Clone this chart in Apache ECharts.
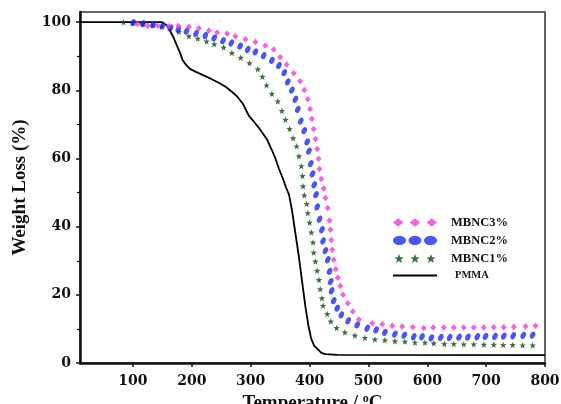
<!DOCTYPE html>
<html><head><meta charset="utf-8">
<script src="https://cdn.jsdelivr.net/npm/echarts@6/dist/echarts.min.js"></script>
<style>html,body{margin:0;padding:0;background:#fff}#c{width:561px;height:404px}</style>
</head><body><div id="c"></div>
<script>
// ---- data ----
const xTickValues = [100, 200, 300, 400, 500, 600, 700, 800];
const yTickValues = [0, 20, 40, 60, 80, 100];
const yMinorTickValues = [10, 30, 50, 70, 90];
const seriesNames = ['MBNC3%', 'MBNC2%', 'MBNC1%', 'PMMA'];

const mbnc3Temp = [108,125,142,160,177,195,212,229,243,260,274,291,308,325,339,350,361,373,384,391,397,401,404,407,410,413,415.5,417,420,424,427,431,434,435.5,437,438.5,441,444.5,448,452,457,465,473.5,483.7,506.5,523.5,540.5,557.5,575.5,594,610,628,645,662,679,696,713,730,747,767,784];
const mbnc3Weight = [99.5,99.0,99.0,98.8,98.9,98.6,98.2,97.6,97.0,96.6,95.9,95.0,94.2,93.2,92.0,89.7,87.6,85.0,82.7,80.1,77.4,74.5,71.6,68.7,65.7,62.8,59.9,56.9,54.0,51.2,48.4,45.5,41.8,39.1,36.1,33.2,30.3,27.5,25.0,22.6,20.0,17.5,15.1,12.8,11.7,11.4,10.9,10.7,10.5,10.3,10.4,10.4,10.4,10.4,10.4,10.4,10.5,10.5,10.6,10.7,10.9];

const mbnc2Temp = [100,117,134,150,164,177,191,207,223,238,253,267,282,295,308,322,336,348,357,363,370,376,380,385,391,396,399,402,405,408,411,413,417,421,423,427,431,434,436,437.5,441,447,454,465.6,481,498,513,528,545,561,577,591,607,623,638,654,669,685,699,715,730,746,763,779];
const mbnc2Weight = [99.9,99.6,99.3,98.9,98.3,97.9,97.4,96.7,96.1,95.4,94.6,93.9,93.0,92.0,91.3,90.2,88.8,87.3,85.2,82.5,80.1,77.4,74.4,71.0,68.2,64.9,62.2,58.5,55.5,52.3,49.4,45.8,42.2,39.1,35.8,33.0,30.3,26.9,23.9,21.2,18.3,16.1,14.1,12.4,11.2,10.2,9.7,9.0,8.5,8.2,7.7,7.7,7.4,7.5,7.5,7.6,7.6,7.7,7.8,7.8,7.9,8.0,8.1,8.2];

const mbnc1Temp = [84,101,117,134,149,162,178,195,210,225,238,254,268,283,298,312,320,327,336,346,353,359,366,372,378,382,386,388,389,391,395,397,400,403,406,407,410,413,416,418,421,423,430,436,446,460,477,494,511,528,545,562,579,596,611,629,645,662,679,696,713,729,745,762,779];
const mbnc1Weight = [100,99.8,99.5,99.1,98.8,98.3,97.2,95.9,95.2,94.4,93.6,92.6,91.0,89.6,88.0,86.2,84.0,81.5,79.0,76.8,74.0,71.4,68.7,66.0,63.6,60.7,57.8,54.9,51.9,49.2,46.7,44.0,41.2,38.3,35.4,32.4,29.8,27.1,24.4,21.7,19.0,16.8,14.4,12.2,10.3,9.0,8.1,7.4,6.9,6.7,6.4,6.3,6.0,6.0,5.8,5.6,5.6,5.5,5.5,5.4,5.4,5.3,5.3,5.2,5.2];

const pmmaTemp = [10,150,158,163,169,175,180,184,190,197,206,220,235,248,258,270,278,287,297,307,316,328,336,342,348,355,360,365,370,376,382,388,393,398,403,408,413,420,427,447,800];
const pmmaWeight = [100,100,99,97.5,95.5,93,91,89,87.5,86.3,85.5,84.4,83.2,82,81,79.3,78,76,72.5,70.5,68.5,65.5,62.5,60,57,54,51.5,49.5,45,38,31,23,16.5,11,7,5,4.2,3,2.6,2.4,2.3];

// ---- helpers ----
function zip(a, b) { return a.map((v, i) => [v, b[i]]); }
function starPts(cx, cy, R, r) {
  let s = '';
  for (let k = 0; k < 10; k++) {
    const ang = -Math.PI / 2 + k * Math.PI / 5;
    const rad = k % 2 === 0 ? R : r;
    s += (k === 0 ? 'M' : 'L') + (cx + rad * Math.cos(ang)).toFixed(3) + ',' + (cy + rad * Math.sin(ang)).toFixed(3);
  }
  return s + 'Z';
}
function ellipsePts(cx, cy, rx, ry) {
  const k = 0.5523;
  return 'M' + (cx - rx) + ',' + cy +
    'C' + (cx - rx) + ',' + (cy - k * ry) + ' ' + (cx - k * rx) + ',' + (cy - ry) + ' ' + cx + ',' + (cy - ry) +
    'C' + (cx + k * rx) + ',' + (cy - ry) + ' ' + (cx + rx) + ',' + (cy - k * ry) + ' ' + (cx + rx) + ',' + cy +
    'C' + (cx + rx) + ',' + (cy + k * ry) + ' ' + (cx + k * rx) + ',' + (cy + ry) + ' ' + cx + ',' + (cy + ry) +
    'C' + (cx - k * rx) + ',' + (cy + ry) + ' ' + (cx - rx) + ',' + (cy + k * ry) + ' ' + (cx - rx) + ',' + cy + 'Z';
}
function diamondPts(cx, cy, hw, hh) {
  return 'M' + (cx - hw) + ',' + cy + 'L' + cx + ',' + (cy - hh) + 'L' + (cx + hw) + ',' + cy + 'L' + cx + ',' + (cy + hh) + 'Z';
}
const starSymbol = 'path://' + starPts(0, 0, 5, 2.1);
const legendDiamonds = 'path://' + diamondPts(5, 4, 5, 4) + diamondPts(21, 4, 5, 4) + diamondPts(37, 4, 5, 4);
const legendEllipses = 'path://' + ellipsePts(6.5, 4.5, 6.5, 4.5) + ellipsePts(22, 4.5, 6.5, 4.5) + ellipsePts(37.5, 4.5, 6.5, 4.5);
const legendStars = 'path://' + starPts(5, 5, 5, 2.1) + starPts(21, 5, 5, 2.1) + starPts(37, 5, 5, 2.1);
const legendLine = 'path://M0,0L40,0L40,2L0,2Z';

const PINK = '#f23ad9', BLUE = '#1b2bf2', GREEN = '#124a16';
const tickFont = { fontFamily: 'DejaVu Serif', fontWeight: 'bold', fontSize: 14, color: '#111' };
const serif = 'Liberation Serif';

const chart = echarts.init(document.getElementById('c'), null, { renderer: 'canvas' });
chart.setOption({
  animation: false,
  backgroundColor: '#fff',
  grid: { left: 80, right: 16, top: 12, bottom: 41, outerBoundsMode: 'none', containLabel: false,
    show: true, borderColor: '#333', borderWidth: 1.5, backgroundColor: 'transparent' },
  legend: {
    orient: 'vertical', left: 388, top: 211,
    itemWidth: 44, itemHeight: 9, itemGap: 5,
    textStyle: { fontFamily: serif, fontWeight: 'bold', fontSize: 12.5, color: '#111', padding: [0, 0, 0, 9] },
    data: [
      { name: seriesNames[0], icon: legendDiamonds },
      { name: seriesNames[1], icon: legendEllipses },
      { name: seriesNames[2], icon: legendStars },
      { name: seriesNames[3], icon: legendLine, textStyle: { fontSize: 10.5, padding: [0, 0, 0, 13] } }
    ]
  },
  xAxis: {
    type: 'value', min: 10, max: 800,
    name: 'Temperature / {sup|o}C', nameLocation: 'middle', nameGap: 26,
    nameTextStyle: { fontFamily: serif, fontWeight: 'bold', fontSize: 19, color: '#111',
      rich: { sup: { fontFamily: serif, fontWeight: 'bold', fontSize: 12, color: '#111', padding: [0, 0, 9, 0] } } },
    axisLine: { show: true, lineStyle: { color: '#111', width: 2.5 } },
    axisTick: { show: true, customValues: xTickValues, length: 4, lineStyle: { color: '#111', width: 1.5 } },
    axisLabel: { customValues: xTickValues, margin: 11, ...tickFont },
    splitLine: { show: false }
  },
  yAxis: [{
    type: 'value', min: 0, max: 103,
    name: 'Weight Loss (%)', nameLocation: 'middle', nameGap: 50, nameRotate: 90,
    nameTextStyle: { fontFamily: serif, fontWeight: 'bold', fontSize: 19, color: '#111' },
    axisLine: { show: true, lineStyle: { color: '#111', width: 2.5 } },
    axisTick: { show: true, customValues: yTickValues, length: 4, lineStyle: { color: '#111', width: 1.5 } },
    axisLabel: { customValues: yTickValues, margin: 9, ...tickFont },
    splitLine: { show: false }
  }, {
    type: 'value', min: 0, max: 103, position: 'left',
    axisLine: { show: false },
    axisTick: { show: true, customValues: yMinorTickValues, length: 3, lineStyle: { color: '#111', width: 1.2 } },
    axisLabel: { show: false },
    splitLine: { show: false }
  }],
  series: [
    { name: seriesNames[3], type: 'line', data: zip(pmmaTemp, pmmaWeight), symbol: 'none', z: 1,
      lineStyle: { color: '#000', width: 1.8 }, itemStyle: { color: '#000' } },
    { name: seriesNames[2], type: 'scatter', data: zip(mbnc1Temp, mbnc1Weight), symbol: starSymbol, symbolSize: 6.5, z: 2,
      itemStyle: { color: GREEN } },
    { name: seriesNames[1], type: 'scatter', data: zip(mbnc2Temp, mbnc2Weight), symbol: 'circle', symbolSize: [5, 7.5], symbolRotate: -25, z: 3,
      itemStyle: { color: BLUE } },
    { name: seriesNames[0], type: 'scatter', data: zip(mbnc3Temp, mbnc3Weight), symbol: 'diamond', symbolSize: [6, 6.5], z: 4,
      itemStyle: { color: PINK } }
  ]
});
</script></body></html>
